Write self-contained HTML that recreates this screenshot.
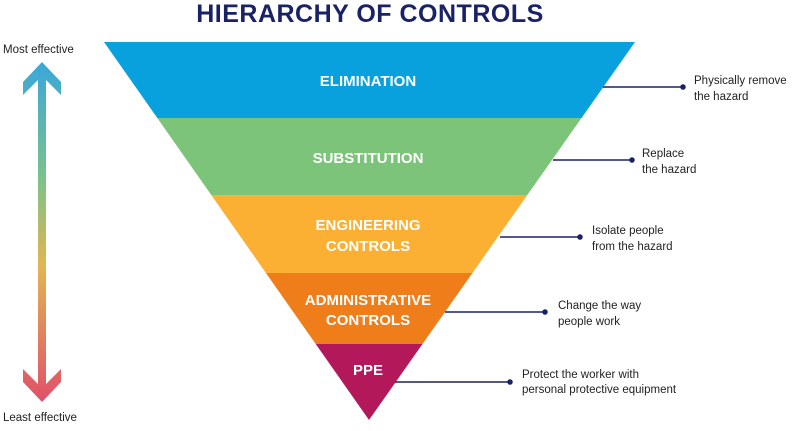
<!DOCTYPE html>
<html><head><style>
body{margin:0;width:800px;height:426px;background:#fff;overflow:hidden;font-family:"Liberation Sans",sans-serif}
</style></head><body>
<svg width="800" height="426" xmlns="http://www.w3.org/2000/svg">
<defs>
<linearGradient id="g" x1="0" y1="0" x2="0" y2="1">
<stop offset="0" stop-color="#3aa7da"/>
<stop offset="0.35" stop-color="#7cc28a"/>
<stop offset="0.6" stop-color="#e2b552"/>
<stop offset="1" stop-color="#e0506a"/>
</linearGradient>
<clipPath id="tri"><polygon points="104,42 635,42 369,420"/></clipPath>
</defs>
<text x="370" y="22" text-anchor="middle" font-size="25" font-weight="bold" fill="#1a2266" letter-spacing="0.5">HIERARCHY OF CONTROLS</text>
<g clip-path="url(#tri)">
<rect x="0" y="42" width="800" height="76" fill="#08a0dd"/>
<rect x="0" y="118" width="800" height="77" fill="#7dc47b"/>
<rect x="0" y="195" width="800" height="78" fill="#fbb034"/>
<rect x="0" y="273" width="800" height="71" fill="#ef7d1a"/>
<rect x="0" y="344" width="800" height="80" fill="#b3185a"/>
</g>
<g fill="#fff" font-weight="bold" font-size="15" text-anchor="middle">
<text x="368" y="86">ELIMINATION</text>
<text x="368" y="163">SUBSTITUTION</text>
<text x="368" y="230">ENGINEERING</text>
<text x="368" y="251">CONTROLS</text>
<text x="368" y="305">ADMINISTRATIVE</text>
<text x="368" y="325">CONTROLS</text>
<text x="368" y="375">PPE</text>
</g>
<g stroke="#1a2266" stroke-width="1.5" fill="#1a2266">
<line x1="603" y1="87" x2="683" y2="87"/><circle cx="683" cy="87" r="2"/>
<line x1="553" y1="160" x2="632" y2="160"/><circle cx="632" cy="160" r="2"/>
<line x1="500" y1="237" x2="580" y2="237"/><circle cx="580" cy="237" r="2"/>
<line x1="445" y1="312" x2="545" y2="312"/><circle cx="545" cy="312" r="2"/>
<line x1="395" y1="382" x2="510" y2="382"/><circle cx="510" cy="382" r="2"/>
</g>
<g font-size="11.5" fill="#222">
<text x="694" y="84">Physically remove</text><text x="694" y="100">the hazard</text>
<text x="642" y="157">Replace</text><text x="642" y="173">the hazard</text>
<text x="592" y="234">Isolate people</text><text x="592" y="250">from the hazard</text>
<text x="558" y="309">Change the way</text><text x="558" y="325">people work</text>
<text x="522" y="378">Protect the worker with</text><text x="522" y="393">personal protective equipment</text>
<text x="3" y="53">Most effective</text>
<text x="3" y="421">Least effective</text>
</g>
<path d="M42,62 L61,82 L61,95 L46,80 L46,384 L61,369 L61,382 L42,402 L23,382 L23,369 L38,384 L38,80 L23,95 L23,82 Z" fill="url(#g)"/>
</svg>
</body></html>
